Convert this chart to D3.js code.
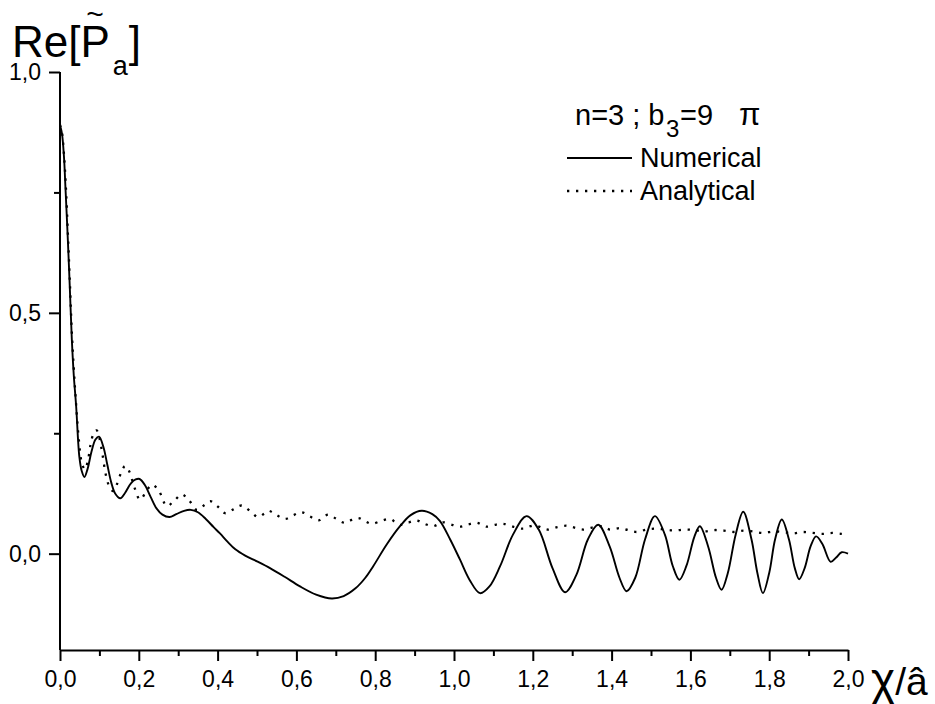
<!DOCTYPE html>
<html>
<head>
<meta charset="utf-8">
<script src="https://cdn.jsdelivr.net/npm/d3@7"></script>
<style>
  html, body { margin: 0; padding: 0; background: #fff; }
  svg { display: block; }
  text { font-family: "Liberation Sans", Arial, Helvetica, sans-serif; fill: #000; }
</style>
</head>
<body>
<svg id="chart" width="935" height="704"></svg>
<script>
// ---------- data ----------
const xTicks = [0.0, 0.1, 0.2, 0.3, 0.4, 0.5, 0.6, 0.7, 0.8, 0.9, 1.0, 1.1, 1.2, 1.3, 1.4, 1.5, 1.6, 1.7, 1.8, 1.9, 2.0];
const xTickLabels = ["0,0", "", "0,2", "", "0,4", "", "0,6", "", "0,8", "", "1,0", "", "1,2", "", "1,4", "", "1,6", "", "1,8", "", "2,0"];
const yTicks = [0.0, 0.25, 0.5, 0.75, 1.0];
const yTickLabels = ["0,0", "", "0,5", "", "1,0"];
const seriesNames = ["Numerical", "Analytical"];
const legendTitle = ["n=3 ; b", "3", "=9", "π"];

const numerical = [
  [0.000, 0.890], [0.005, 0.872], [0.010, 0.825], [0.014, 0.757], [0.020, 0.650],
  [0.025, 0.550], [0.030, 0.445], [0.035, 0.370], [0.041, 0.306], [0.049, 0.202],
  [0.055, 0.172], [0.062, 0.159], [0.070, 0.176], [0.080, 0.212], [0.090, 0.237],
  [0.099, 0.243], [0.110, 0.222], [0.120, 0.185], [0.130, 0.148], [0.140, 0.125],
  [0.153, 0.115], [0.165, 0.126], [0.180, 0.146], [0.192, 0.154], [0.202, 0.155],
  [0.215, 0.143], [0.230, 0.118], [0.245, 0.094], [0.260, 0.081], [0.278, 0.076],
  [0.295, 0.082], [0.315, 0.089], [0.332, 0.091], [0.350, 0.086], [0.370, 0.072],
  [0.390, 0.055], [0.406, 0.042], [0.425, 0.025], [0.445, 0.009], [0.470, -0.004],
  [0.500, -0.016], [0.533, -0.030], [0.570, -0.048], [0.609, -0.068], [0.650, -0.085],
  [0.690, -0.093], [0.720, -0.088], [0.750, -0.072], [0.775, -0.050], [0.795, -0.026],
  [0.830, 0.020], [0.863, 0.057], [0.890, 0.080], [0.918, 0.089], [0.945, 0.082],
  [0.964, 0.068], [0.990, 0.030], [1.015, -0.012], [1.040, -0.055], [1.066, -0.082],
  [1.090, -0.068], [1.117, -0.026], [1.150, 0.040], [1.184, 0.078], [1.215, 0.050],
  [1.250, -0.030], [1.282, -0.080], [1.310, -0.045], [1.340, 0.030], [1.366, 0.060],
  [1.395, 0.015], [1.420, -0.050], [1.438, -0.078], [1.460, -0.050], [1.485, 0.030],
  [1.510, 0.078], [1.535, 0.040], [1.555, -0.025], [1.572, -0.054], [1.590, -0.025],
  [1.610, 0.035], [1.624, 0.057], [1.645, 0.015], [1.665, -0.050], [1.679, -0.075],
  [1.695, -0.040], [1.715, 0.040], [1.734, 0.087], [1.755, 0.030], [1.770, -0.040],
  [1.784, -0.082], [1.800, -0.040], [1.815, 0.030], [1.832, 0.071], [1.850, 0.030],
  [1.865, -0.030], [1.876, -0.053], [1.890, -0.030], [1.905, 0.015], [1.919, 0.036],
  [1.935, 0.020], [1.956, -0.017], [1.970, -0.008], [1.984, 0.003], [2.000, 0.000]
];

const analytical = [
  [0.000, 0.890], [0.005, 0.875], [0.010, 0.830], [0.015, 0.760], [0.020, 0.665],
  [0.025, 0.565], [0.030, 0.460], [0.035, 0.385], [0.040, 0.320], [0.048, 0.235],
  [0.055, 0.190], [0.063, 0.175], [0.070, 0.190], [0.078, 0.228], [0.086, 0.251],
  [0.093, 0.256], [0.100, 0.240], [0.108, 0.205], [0.116, 0.165], [0.125, 0.140],
  [0.135, 0.130], [0.145, 0.145], [0.155, 0.168], [0.165, 0.182], [0.175, 0.172],
  [0.190, 0.135], [0.203, 0.112], [0.218, 0.128], [0.233, 0.143], [0.250, 0.132],
  [0.271, 0.099], [0.290, 0.110], [0.309, 0.123], [0.328, 0.110], [0.347, 0.091],
  [0.365, 0.100], [0.381, 0.109], [0.400, 0.098], [0.419, 0.084], [0.440, 0.092],
  [0.461, 0.100], [0.483, 0.088], [0.503, 0.076], [0.518, 0.083], [0.529, 0.089],
  [0.550, 0.080], [0.571, 0.072], [0.593, 0.080], [0.613, 0.086], [0.635, 0.077],
  [0.656, 0.069], [0.668, 0.076], [0.681, 0.081], [0.702, 0.072], [0.723, 0.064],
  [0.740, 0.070], [0.757, 0.074], [0.775, 0.067], [0.791, 0.062], [0.815, 0.068],
  [0.838, 0.072], [0.850, 0.066], [0.863, 0.060], [0.885, 0.065], [0.905, 0.069],
  [0.925, 0.062], [0.947, 0.057], [0.960, 0.061], [0.973, 0.065], [0.995, 0.060],
  [1.015, 0.056], [1.037, 0.061], [1.058, 0.064], [1.070, 0.060], [1.083, 0.056],
  [1.105, 0.060], [1.125, 0.062], [1.150, 0.056], [1.176, 0.052], [1.190, 0.056],
  [1.206, 0.059], [1.222, 0.054], [1.239, 0.050], [1.262, 0.055], [1.286, 0.058],
  [1.306, 0.054], [1.328, 0.050], [1.350, 0.054], [1.375, 0.057], [1.396, 0.050],
  [1.421, 0.053], [1.442, 0.049], [1.464, 0.045], [1.488, 0.050], [1.510, 0.052],
  [1.535, 0.050], [1.560, 0.048], [1.585, 0.050], [1.610, 0.049], [1.635, 0.046],
  [1.660, 0.049], [1.685, 0.048], [1.710, 0.045], [1.735, 0.048], [1.760, 0.046],
  [1.785, 0.043], [1.810, 0.046], [1.835, 0.045], [1.860, 0.042], [1.885, 0.045],
  [1.910, 0.043], [1.935, 0.041], [1.960, 0.043], [1.985, 0.041], [2.000, 0.040]
];

// ---------- layout ----------
const svg = d3.select("#chart");
const x = d3.scaleLinear().domain([0, 2]).range([60, 848]);
const y = d3.scaleLinear().domain([-0.2, 1.0]).range([650, 72]);
const tickFont = 23;

// X axis
const xAxis = svg.append("g")
  .attr("transform", `translate(0,${y(-0.2)})`)
  .call(d3.axisBottom(x).tickValues(xTicks).tickSizeOuter(0)
        .tickFormat((d, i) => xTickLabels[i]));
xAxis.select(".domain").attr("stroke-width", 2);
xAxis.selectAll(".tick line")
  .attr("stroke-width", 2)
  .attr("y2", (d, i) => xTickLabels[i] ? 11 : 6);
xAxis.selectAll(".tick text")
  .attr("font-size", tickFont).attr("y", 21).attr("dy", "0.71em")
  .style("font-family", "'Liberation Sans', Arial, sans-serif");

// Y axis
const yAxis = svg.append("g")
  .attr("transform", `translate(${x(0)},0)`)
  .call(d3.axisLeft(y).tickValues(yTicks).tickSizeOuter(0)
        .tickFormat((d, i) => yTickLabels[i]));
yAxis.select(".domain").attr("stroke-width", 2)
  .attr("d", `M0,${y(-0.2)}V${y(1.0)}`);
yAxis.selectAll(".tick line")
  .attr("stroke-width", 2)
  .attr("x2", (d, i) => yTickLabels[i] ? -11 : -6);
yAxis.selectAll(".tick text")
  .attr("font-size", tickFont).attr("x", -19)
  .style("font-family", "'Liberation Sans', Arial, sans-serif");

// Lines
const line = d3.line()
  .x(d => x(d[0])).y(d => y(d[1]))
  .curve(d3.curveCatmullRom.alpha(0.5));

svg.append("path").datum(analytical)
  .attr("d", line).attr("fill", "none").attr("stroke", "#000")
  .attr("stroke-width", 2.3).attr("stroke-dasharray", "2.3,6.7");

svg.append("path").datum(numerical)
  .attr("d", line).attr("fill", "none").attr("stroke", "#000")
  .attr("stroke-width", 1.9);

// Y-axis title: Re[P~a]
const yTitle = svg.append("text").attr("x", 12).attr("y", 57).attr("font-size", 44);
yTitle.append("tspan").text("Re[P");
yTitle.append("tspan").attr("font-size", 27).attr("dx", 3).attr("dy", 18).text("a");
yTitle.append("tspan").attr("dx", 1).attr("dy", -18).text("]");
svg.append("text").attr("x", 95).attr("y", 24).attr("font-size", 30)
  .attr("text-anchor", "middle").text("~");

// X-axis title
const xTitle = svg.append("text").attr("x", 871).attr("y", 695).attr("font-size", 39);
xTitle.append("tspan").attr("font-size", 46).text("χ");
xTitle.append("tspan").text("/â");

// Legend
const lt = svg.append("text").attr("x", 575).attr("y", 125).attr("font-size", 29);
lt.append("tspan").text(legendTitle[0]);
lt.append("tspan").attr("x", 666).attr("font-size", 24).attr("dy", 12).text(legendTitle[1]);
lt.append("tspan").attr("x", 680).attr("dy", -12).text(legendTitle[2]);
lt.append("tspan").attr("x", 739).attr("font-size", 31).text(legendTitle[3]);

const legendRows = [
  { name: seriesNames[0], ly: 158, dash: null },
  { name: seriesNames[1], ly: 191, dash: "2.3,6.7" }
];
legendRows.forEach(r => {
  const ln = svg.append("line").attr("x1", 567).attr("x2", 632)
    .attr("y1", r.ly).attr("y2", r.ly).attr("stroke", "#000")
    .attr("stroke-width", r.dash ? 2.3 : 1.9);
  if (r.dash) ln.attr("stroke-dasharray", r.dash);
  svg.append("text").attr("x", 640).attr("y", r.ly + 9).attr("font-size", 27).text(r.name);
});
</script>
</body>
</html>
